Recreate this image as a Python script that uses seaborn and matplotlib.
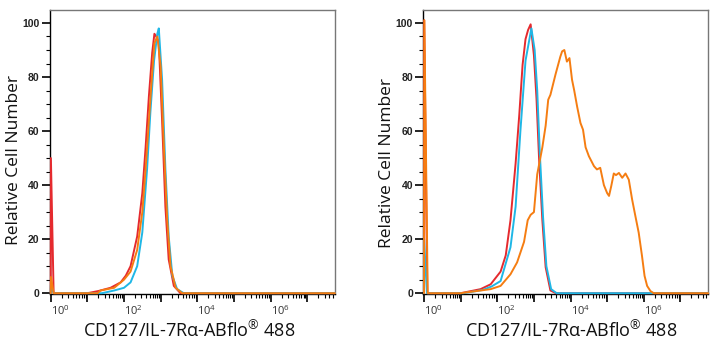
import numpy as np
import pandas as pd
import matplotlib
matplotlib.use("Agg")
import matplotlib.pyplot as plt
import matplotlib.ticker as mticker
import seaborn as sns

# ---------------- data (fluorescence intensity, relative cell number) ----------------
# Left panel
l_red_x = [1.0, 1.01, 1.2, 10, 20, 43, 81, 112, 151, 229, 316, 389, 479, 589, 676, 759, 891,
           1096, 1349, 1660, 2291, 3467, 5.75e7]
l_red_y = [0, 50, 0, 0, 0.8, 2, 4, 6.5, 10, 21, 37, 54, 73, 89, 96, 95, 93,
           64, 32, 12.5, 2.7, 0, 0]
l_org_x = [1.0, 1.02, 1.2, 19, 23, 54, 100, 151, 229, 316, 389, 479, 589, 676, 813,
           1000, 1230, 1514, 1862, 2570, 3890, 5.75e7]
l_org_y = [0, 6, 0, 0, 1, 2, 5, 8, 16, 30, 46, 64, 81.5, 92.5, 95,
           84, 54, 27, 10, 2, 0, 0]
l_cyn_x = [1.0, 1.01, 1.2, 25, 54, 100, 151, 229, 316, 427, 525, 661, 813, 891,
           1096, 1349, 1660, 2089, 2818, 4266, 5.75e7]
l_cyn_y = [0, 3, 0, 0, 1, 2, 4, 10, 22.5, 46, 67, 86, 96, 98,
           79, 46, 21, 6.4, 1.5, 0, 0]

# Right panel
r_red_x = [1.0, 1.01, 1.23, 10, 35, 66, 123, 170, 229, 316, 398, 490, 589, 692, 813,
           1000, 1175, 1380, 1698, 2089, 2818, 3981, 5.75e7]
r_red_y = [0, 101, 0, 0, 1.5, 3.3, 8, 14, 27, 48, 66, 84.5, 94, 97.4, 99.5,
           88, 72, 50, 27, 9.6, 1, 0, 0]
r_cyn_x = [1.0, 1.005, 1.2, 12, 40, 70, 123, 229, 316, 427, 589, 851,
           1047, 1230, 1445, 1778, 2188, 2951, 4169, 5.75e7]
r_cyn_y = [0, 20, 0, 0, 1.2, 2.5, 4.5, 17, 32, 60, 86, 98,
           90, 75, 52, 28, 10, 1.5, 0, 0]
r_org_x = [1.0, 1.02, 1.26, 10, 66, 123, 229, 347, 537, 676, 813, 1000, 1230, 1698, 2089,
           2455, 2818, 3890, 5248, 5888, 6761, 7943, 9333, 10965, 12589, 15136, 18621,
           21878, 25704, 31623, 43652, 52481, 64565, 81283, 100000, 112202, 128825,
           151356, 173780, 208930, 257040, 316228, 389045, 478630, 588844, 724436,
           891251, 1047129, 1230269, 1513561, 1862087, 5.75e7]
r_org_y = [0, 101, 0, 0, 1.5, 2.7, 7, 11.4, 19, 27, 29, 30, 44, 54, 62,
           71.6, 73.4, 81, 87.5, 89.5, 90, 85.7, 87, 79, 75, 69, 63,
           60.5, 54, 50.7, 47, 45.8, 46.4, 40, 37, 36, 39.6,
           44.3, 43.7, 44.5, 42.7, 44.3, 42, 34.7, 28.5, 22.4,
           13.8, 6.4, 2.7, 0.8, 0, 0]

y_ticks = [0, 20, 40, 60, 80, 100]
x_decades = [0, 1, 2, 3, 4, 5, 6, 7]
x_label = "CD127/IL-7R\u03b1-ABflo$^{\u00ae}$ 488"
y_label = "Relative Cell Number"

RED = "#e52a2e"
ORG = "#f57d12"
CYN = "#1fb7e6"

panels = [
    [("red", l_red_x, l_red_y, RED), ("cyan", l_cyn_x, l_cyn_y, CYN), ("orange", l_org_x, l_org_y, ORG)],
    [("red", r_red_x, r_red_y, RED), ("cyan", r_cyn_x, r_cyn_y, CYN), ("orange", r_org_x, r_org_y, ORG)],
]

sns.set_theme(style="white")
plt.rcParams["font.family"] = ["Open Sans", "DejaVu Sans"]
plt.rcParams["mathtext.fontset"] = "custom"
plt.rcParams["mathtext.rm"] = "Open Sans"
plt.rcParams["mathtext.it"] = "Open Sans"
plt.rcParams["mathtext.bf"] = "Open Sans"

fig = plt.figure(figsize=(7.15, 3.5), dpi=100)
W, H = 715, 350
ax_boxes = [(50, 10, 285, 284), (423.3, 10, 285, 284)]

for (x0, y0, w, h), series, ylx, xlx in zip(ax_boxes, panels, [(-0.1, 0.472), (-0.1, 0.463)],
                                           [(0.49, -0.095), (0.52, -0.095)]):
    ax = fig.add_axes([x0 / W, 1 - (y0 + h) / H, w / W, h / H])
    for name, xs, ys, col in series:
        df = pd.DataFrame({"x": xs, "y": ys})
        sns.lineplot(data=df, x="x", y="y", ax=ax, color=col, lw=1.4, sort=False,
                     estimator=None, zorder=3)
    for ln in ax.lines:
        ln.set_clip_on(False)
    ax.set_xscale("log")
    ax.set_xlim(10 ** -0.02, 10 ** 7.76)
    ax.set_ylim(-0.3, 104.8)

    ax.xaxis.set_major_locator(mticker.FixedLocator([10.0 ** d for d in x_decades]))
    ax.xaxis.set_minor_locator(mticker.LogLocator(base=10, subs=np.arange(2, 10), numticks=20))
    ax.xaxis.set_major_formatter(mticker.FuncFormatter(
        lambda v, p: (r"$10^{%d}$" % round(np.log10(v))) if round(np.log10(v)) % 2 == 0 else ""))
    ax.xaxis.set_minor_formatter(mticker.NullFormatter())
    ax.yaxis.set_major_locator(mticker.FixedLocator(y_ticks))
    ax.yaxis.set_minor_locator(mticker.MultipleLocator(5))

    ax.tick_params(which="major", direction="out", length=5.5, width=1.2, color="black",
                   bottom=True, left=True)
    ax.tick_params(which="minor", direction="out", length=2.8, width=0.8, color="black",
                   bottom=True, left=True)
    ax.tick_params(axis="y", labelsize=7.5, labelcolor="#222222", pad=2)
    ax.tick_params(axis="x", labelsize=8, labelcolor="#333333", pad=2)
    for lab in ax.get_yticklabels():
        lab.set_fontweight("bold")
        lab.set_family(["Liberation Sans", "DejaVu Sans"])
    for lab in ax.get_xticklabels():
        lab.set_horizontalalignment("left")

    for side in ["left", "bottom"]:
        ax.spines[side].set_color("black")
        ax.spines[side].set_linewidth(1.0)
    for side in ["top", "right"]:
        ax.spines[side].set_color("#777777")
        ax.spines[side].set_linewidth(1.0)

    ax.set_xlabel(x_label, fontsize=13, color="#111111")
    ax.set_ylabel(y_label, fontsize=12.5, color="#111111")
    ax.xaxis.set_label_coords(*xlx)
    ax.yaxis.set_label_coords(*ylx)
    ax.grid(False)

fig.savefig("out.png", dpi=100, facecolor="white")
